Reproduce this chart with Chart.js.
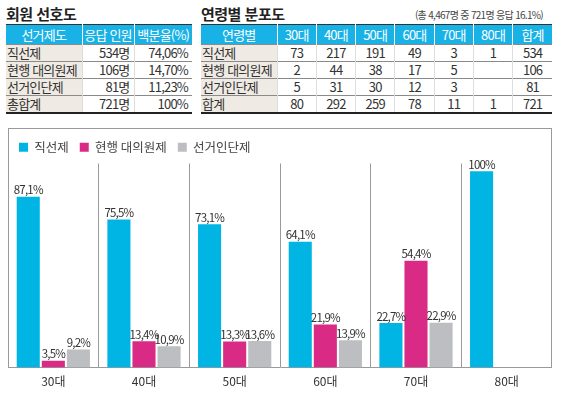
<!DOCTYPE html>
<html lang="ko">
<head>
<meta charset="UTF-8">
<title>회원 선호도 / 연령별 분포도</title>
<script src="https://cdn.jsdelivr.net/npm/chart.js"></script>
<style>
    html, body { margin: 0; padding: 0; background: #fff; }
    body {
        width: 563px; height: 398px; position: relative; overflow: hidden;
        font-family: 'Noto Sans CJK KR', 'Noto Sans', sans-serif; color: #333;
    }
    .title { position: absolute; top: 3px; font-size: 15px; font-weight: 700; color: #222; letter-spacing: -0.5px; }
    .note { position: absolute; top: 7px; right: 20px; font-size: 10px; color: #444; letter-spacing: -0.7px; }
    table {
        position: absolute; top: 24px; border-collapse: collapse; table-layout: fixed;
        font-size: 13px; letter-spacing: -0.8px;
        border-top: 1px solid #333; border-bottom: 2px solid #222;
    }
    th { background: #19b2e6; color: #fff; font-weight: 400; height: 17px; padding: 0; border-left: 1px solid #fff; }
    th:first-child { border-left: none; }
    td { height: 16px; padding: 0 4px; border-top: 1px solid #8a8a8a; border-left: 1px solid #ddd; line-height: 16px; white-space: nowrap; }
    td:first-child { background: #efebe4; border-left: none; text-align: left; padding-left: 1px; }
    #prefTable td { text-align: right; }
    #prefTable td:first-child { text-align: left; }
    #ageTable td { text-align: center; }
    #ageTable td:first-child { text-align: left; }
    .frame {
        position: absolute; left: 8px; top: 128px; width: 542px; height: 239px;
        border: 1px solid #9a9a9a; border-bottom: none;
    }
    #chart { position: absolute; left: 8px; top: 128px; }
</style>
</head>
<body>
<div class="title" style="left:6px">회원 선호도</div>
<div class="title" style="left:201px">연령별 분포도</div>
<div class="note">(총 4,467명 중 721명 응답 16.1%)</div>

<table id="prefTable" style="left:6px; width:186px">
    <colgroup><col style="width:76px"><col style="width:52px"><col style="width:58px"></colgroup>
    <thead></thead><tbody></tbody>
</table>

<table id="ageTable" style="left:201px; width:351px">
    <colgroup><col style="width:76px"><col><col><col><col><col><col><col></colgroup>
    <thead></thead><tbody></tbody>
</table>

<div class="frame"></div>
<canvas id="chart" width="544" height="270"></canvas>

<script>
    // 회원 선호도 표
    const prefHeader = ['선거제도', '응답 인원', '백분율(%)'];
    const prefSystems = ['직선제', '현행 대의원제', '선거인단제', '총합계'];
    const prefCounts = ['534명', '106명', '81명', '721명'];
    const prefShares = ['74,06%', '14,70%', '11,23%', '100%'];

    // 연령별 분포도 표
    const ageHeader = ['연령별', '30대', '40대', '50대', '60대', '70대', '80대', '합계'];
    const ageDirect = ['73', '217', '191', '49', '3', '1', '534'];
    const ageCurrent = ['2', '44', '38', '17', '5', '', '106'];
    const ageElectors = ['5', '31', '30', '12', '3', '', '81'];
    const ageTotal = ['80', '292', '259', '78', '11', '1', '721'];

    // 막대 그래프 (%)
    const ageGroups = ['30대', '40대', '50대', '60대', '70대', '80대'];
    const directPct = [87.1, 75.5, 73.1, 64.1, 22.7, 100];
    const currentPct = [3.5, 13.4, 13.3, 21.9, 54.4, null];
    const electorsPct = [9.2, 10.9, 13.6, 13.9, 22.9, null];

    const colors = { direct: '#00b4e3', current: '#d92b86', electors: '#bdbec1' };

    function fillTable(id, header, rows) {
        const t = document.getElementById(id);
        t.tHead.innerHTML = '<tr>' + header.map(h => `<th>${h}</th>`).join('') + '</tr>';
        t.tBodies[0].innerHTML = rows.map(r => '<tr>' + r.map(c => `<td>${c}</td>`).join('') + '</tr>').join('');
    }

    fillTable('prefTable', prefHeader, prefSystems.map((s, i) => [s, prefCounts[i], prefShares[i]]));
    fillTable('ageTable', ageHeader, [
        ['직선제', ...ageDirect],
        ['현행 대의원제', ...ageCurrent],
        ['선거인단제', ...ageElectors],
        ['합계', ...ageTotal]
    ]);

    const fmt = v => (Number.isInteger(v) ? String(v) : v.toFixed(1).replace('.', ',')) + '%';

    // 막대 위 값 표시
    const valueLabels = {
        id: 'valueLabels',
        afterDatasetsDraw(chart) {
            const ctx = chart.ctx;
            ctx.save();
            ctx.font = '11.5px "Noto Sans CJK KR", sans-serif';
            ctx.letterSpacing = '-0.8px';
            ctx.fillStyle = '#333';
            ctx.textAlign = 'center';
            ctx.textBaseline = 'bottom';
            chart.data.datasets.forEach((ds, i) => {
                chart.getDatasetMeta(i).data.forEach((bar, j) => {
                    const v = ds.data[j];
                    if (v == null) return;
                    ctx.fillText(fmt(v), bar.x, bar.y - 1);
                });
            });
            ctx.restore();
        }
    };

    new Chart(document.getElementById('chart'), {
        type: 'bar',
        data: {
            labels: ageGroups,
            datasets: [
                { label: '직선제', data: directPct, backgroundColor: colors.direct },
                { label: '현행 대의원제', data: currentPct, backgroundColor: colors.current },
                { label: '선거인단제', data: electorsPct, backgroundColor: colors.electors }
            ]
        },
        options: {
            responsive: false,
            animation: false,
            layout: { padding: { top: 2, bottom: 2, left: 0, right: 0 } },
            datasets: { bar: { categoryPercentage: 0.83, barPercentage: 0.92 } },
            plugins: {
                legend: {
                    position: 'top',
                    align: 'start',
                    labels: {
                        boxWidth: 9, boxHeight: 9, padding: 11,
                        color: '#444',
                        font: { family: '"Noto Sans CJK KR", sans-serif', size: 12.5 }
                    }
                },
                tooltip: { enabled: false }
            },
            scales: {
                x: {
                    grid: { color: '#9a9a9a', drawTicks: false, offset: true },
                    border: { color: '#9a9a9a' },
                    ticks: { color: '#333', padding: 7, font: { family: '"Noto Sans CJK KR", sans-serif', size: 12 } }
                },
                y: { display: false, min: 0, max: 104 }
            }
        },
        plugins: [valueLabels]
    });
</script>
</body>
</html>
